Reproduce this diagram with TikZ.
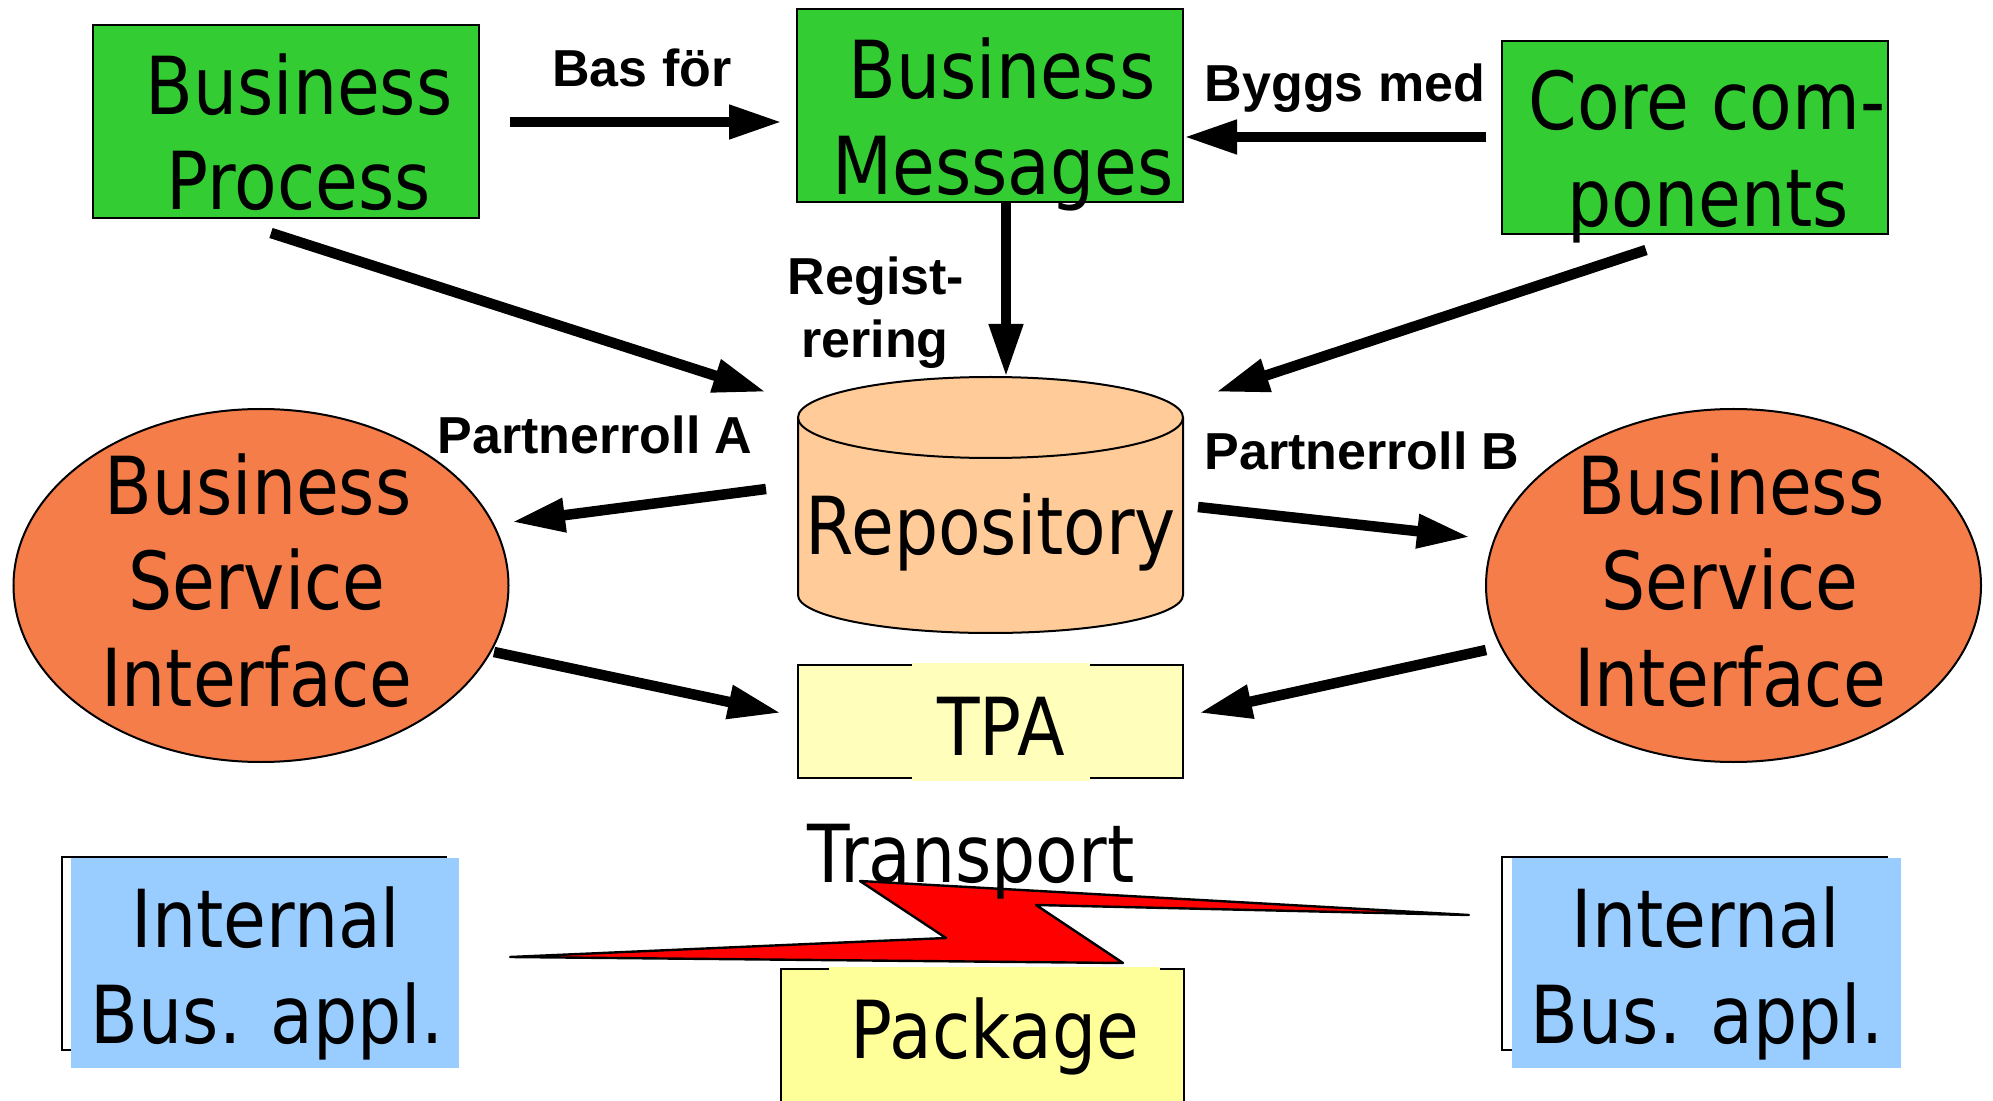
\documentclass[tikz,border=0pt]{standalone}
\usepackage{fontspec}
\usetikzlibrary{arrows.meta,shapes.geometric}
\newfontfamily\boxfont[FakeStretch=0.87]{DejaVu Sans}
\newfontfamily\lblfont{Liberation Sans}
\definecolor{bgreen}{HTML}{33CC33}
\definecolor{borange}{HTML}{F47D4A}
\definecolor{cylfill}{HTML}{FFCC99}
\definecolor{tpafill}{HTML}{FFFFBB}
\definecolor{pkgfill}{HTML}{FFFF99}
\definecolor{iblue}{HTML}{99CCFF}
\begin{document}
\begin{tikzpicture}[x=0.5pt,y=-0.5pt,
  txt/.style={font=\boxfont\fontsize{40pt}{48pt}\selectfont, inner sep=0pt, anchor=base},
  lbl/.style={font=\lblfont\bfseries\fontsize{26pt}{31.5pt}\selectfont, inner sep=0pt, anchor=base},
  gbox/.style={draw=black, line width=1pt, fill=bgreen, minimum width=193pt, minimum height=96.5pt, inner sep=0pt},
  bsi/.style={ellipse, draw=black, line width=1pt, fill=borange, minimum width=247.5pt, minimum height=176.5pt, inner sep=0pt},
  conn/.style={line width=5.25pt, -{Triangle[length=26.5pt,width=16pt]}},
  thin/.style={line width=1pt}
]
\useasboundingbox (0,0) rectangle (1993,1101);

% green boxes
\node[gbox] (bp) at (286,121.5) {};
\node[gbox] (bm) at (990,105.5) {};
\node[gbox] (cc) at (1695,137.5) {};
\node[txt] (bp1) at (299,115) {Business};
\node[txt] (bp2) at (299,210) {Process};
\node[txt] (bm1) at (1002,99) {Business};
\node[txt] (bm2) at (1003,195) {Messages};
\node[txt] (cc1) at (1707,130) {Core com-};
\node[txt] (cc2) at (1708,227) {ponents};

% repository cylinder
\fill[cylfill] (798,417.5) rectangle (1183,595);
\fill[cylfill] (990.5,595) ellipse [x radius=96.25pt, y radius=19pt];
\draw[thin] (798,417.5) -- (798,595) arc[start angle=180, end angle=360, x radius=96.25pt, y radius=19pt] -- (1183,417.5);
\draw[thin, fill=cylfill] (990.5,417.5) ellipse [x radius=96.25pt, y radius=20.25pt];
\node[txt] (repo) at (991,555) {Repository};

% BSI ellipses
\node[bsi] (bsil) at (261,585.5) {};
\node[bsi] (bsir) at (1733.5,585.5) {};
\node[txt] (bl1) at (258,515) {Business};
\node[txt] (bl2) at (257,610) {Service};
\node[txt] (bl3) at (257,706) {Interface};
\node[txt] (br1) at (1731,515) {Business};
\node[txt] (br2) at (1730,610) {Service};
\node[txt] (br3) at (1730,706) {Interface};

% TPA
\draw[thin, fill=tpafill] (798,665) rectangle (1183,778);
\fill[tpafill] (912,663) rectangle (1090,781);
\node[txt] (tpa) at (1001,755) {TPA};

% Internal Bus. appl.
\draw[thin, fill=white] (62,857) rectangle (446,1050);
\fill[iblue] (71,858) rectangle (459,1068);
\node[txt] (il1) at (266,947) {Internal};
\node[txt] (il2) at (267,1043) {Bus. appl.};
\draw[thin, fill=white] (1502,857) rectangle (1887,1050);
\fill[iblue] (1512,858) rectangle (1901,1068);
\node[txt] (ir1) at (1706,947) {Internal};
\node[txt] (ir2) at (1707,1043) {Bus. appl.};

% Package
\draw[thin, fill=pkgfill] (781,969) rectangle (1184,1120);
\fill[pkgfill] (829,967) rectangle (1160,1120);
\node[txt] (pkg) at (995,1058) {Package};

% lightning bolt
\draw[line width=1.2pt, line join=round, fill=red] (510,957) -- (946,938) -- (860,881) -- (1469,915) -- (1036,905) -- (1123,963) -- cycle;
\node[txt] (tr) at (971,882) {Transport};

% connector end points
\coordinate (a1s) at (510,122);  \coordinate (a1e) at (782,122);
\coordinate (a2s) at (1486,137); \coordinate (a2e) at (1184,137);
\coordinate (a3s) at (1006,202); \coordinate (a3e) at (1006,377);
\coordinate (a4s) at (271,233);  \coordinate (a4e) at (766,392);
\coordinate (a5s) at (1646,250); \coordinate (a5e) at (1216,392);
\coordinate (a6s) at (766,489);  \coordinate (a6e) at (512,522);
\coordinate (a7s) at (1198,507); \coordinate (a7e) at (1470,537);
\coordinate (a8s) at (494,652);  \coordinate (a8e) at (781,713);
\coordinate (a9s) at (1486,650); \coordinate (a9e) at (1199,713);

\draw[conn] (a1s) -- (a1e);
\draw[conn] (a2s) -- (a2e);
\draw[conn] (a3s) -- (a3e);
\draw[conn] (a4s) -- (a4e);
\draw[conn] (a5s) -- (a5e);
\draw[conn] (a6s) -- (a6e);
\draw[conn] (a7s) -- (a7e);
\draw[conn] (a8s) -- (a8e);
\draw[conn] (a9s) -- (a9e);

% labels
\node[lbl] (l1) at (642,87) {Bas för};
\node[lbl] (l2) at (1345,102) {Byggs med};
\node[lbl] (l3) at (876,295) {Regist-};
\node[lbl] (l4) at (875,358) {rering};
\node[lbl] (l5) at (595,454) {Partnerroll A};
\node[lbl] (l6) at (1362,470) {Partnerroll B};
\end{tikzpicture}
\end{document}
